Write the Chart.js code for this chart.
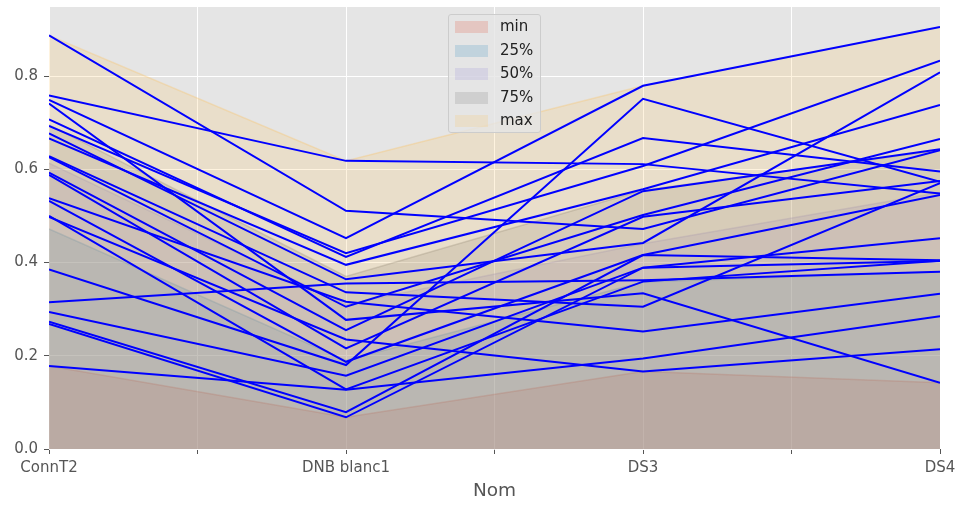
<!DOCTYPE html>
<html>
<head>
<meta charset="utf-8">
<script src="https://cdn.jsdelivr.net/npm/chart.js@4.4.0/dist/chart.umd.min.js"></script>
<style>
  html, body { margin: 0; padding: 0; background: #ffffff; }
  #wrap { position: relative; width: 958px; height: 505px; }
  #legend {
    position: absolute; left: 448px; top: 14px; width: 91px; height: 117px;
    border: 1px solid #cccccc; border-radius: 3px; background: rgba(229,229,229,0.8);
    font-family: "DejaVu Sans", sans-serif; font-size: 15px; color: #222;
  }
  .row { position: absolute; left: 0; height: 20px; }
  .sw { position: absolute; left: 6px; top: 4px; width: 33px; height: 12px; }
  .lb { position: absolute; left: 51px; top: 0px; white-space: nowrap; }
</style>
</head>
<body>
<div id="wrap">
  <canvas id="c" width="958" height="505"></canvas>
  <div id="legend"></div>
</div>
<script>
const categories = ['ConnT2', 'DNB blanc1', 'DS3', 'DS4'];
const yTicks = [0.0, 0.2, 0.4, 0.6, 0.8];

// quantile envelopes
const qMin = [0.178, 0.068, 0.166, 0.142];
const q25  = [0.472, 0.190, 0.358, 0.380];
const q50  = [0.613, 0.310, 0.440, 0.550];
const q75  = [0.695, 0.370, 0.555, 0.641];
const qMax = [0.887, 0.618, 0.779, 0.905];
const quantLabels = ['min', '25%', '50%', '75%', 'max'];

// one row per student
const eleves = [
  [0.749, 0.452, 0.779, 0.905],
  [0.385, 0.180, 0.751, 0.573],
  [0.707, 0.412, 0.667, 0.595],
  [0.758, 0.618, 0.611, 0.548],
  [0.887, 0.511, 0.472, 0.641],
  [0.538, 0.316, 0.252, 0.333],
  [0.498, 0.235, 0.166, 0.214],
  [0.178, 0.127, 0.194, 0.285],
  [0.741, 0.277, 0.334, 0.142],
  [0.315, 0.355, 0.362, 0.380],
  [0.628, 0.336, 0.305, 0.570],
  [0.693, 0.420, 0.607, 0.833],
  [0.677, 0.364, 0.442, 0.808],
  [0.666, 0.395, 0.557, 0.738],
  [0.626, 0.305, 0.502, 0.665],
  [0.593, 0.255, 0.553, 0.643],
  [0.588, 0.216, 0.498, 0.575],
  [0.532, 0.187, 0.416, 0.545],
  [0.294, 0.157, 0.389, 0.452],
  [0.273, 0.079, 0.416, 0.405],
  [0.268, 0.068, 0.389, 0.403],
  [0.500, 0.128, 0.359, 0.404]
];

const quantSeries = [qMin, q25, q50, q75, qMax];
const quantRGB = ['226,74,51', '52,138,189', '152,142,213', '119,119,119', '251,193,94'];

const toPts = arr => arr.map((v, i) => ({x: i, y: v}));

const datasets = [];
eleves.forEach((row, k) => {
  datasets.push({
    label: 'e' + k, data: toPts(row), borderColor: '#0000ff', borderWidth: 2,
    pointRadius: 0, fill: false, tension: 0, order: 0
  });
});
quantSeries.forEach((q, k) => {
  datasets.push({
    label: quantLabels[k], data: toPts(q),
    borderColor: 'rgba(' + quantRGB[k] + ',0.3)', borderWidth: 1.5,
    backgroundColor: 'rgba(' + quantRGB[k] + ',0.2)',
    pointRadius: 0, fill: 'origin', tension: 0, order: 10 - k
  });
});

const bgPlugin = {
  id: 'bg',
  beforeDraw(chart) {
    const a = chart.chartArea, ctx = chart.ctx;
    ctx.save(); ctx.fillStyle = '#e5e5e5';
    ctx.fillRect(a.left, a.top, a.right - a.left, a.bottom - a.top);
    ctx.restore();
  }
};

new Chart(document.getElementById('c'), {
  type: 'line',
  data: { datasets },
  plugins: [bgPlugin],
  options: {
    responsive: false, animation: false, devicePixelRatio: 1,
    layout: { padding: { left: 0, right: 18, top: 7, bottom: 0 } },
    plugins: { legend: { display: false }, tooltip: { enabled: false } },
    scales: {
      x: {
        type: 'linear', min: 0, max: 3,
        afterFit(s) { s.height = 56; s.paddingLeft = 0; s.paddingRight = 0; },
        border: { display: false },
        grid: { color: '#ffffff', lineWidth: 1, tickLength: 5, tickColor: '#555555' },
        ticks: {
          stepSize: 0.5, includeBounds: false, autoSkip: false, maxRotation: 0,
          padding: 5, color: '#555555',
          font: { family: 'DejaVu Sans', size: 15 },
          callback: v => (Number.isInteger(v) ? categories[v] : '')
        },
        title: { display: true, text: 'Nom', color: '#555555',
                 font: { family: 'DejaVu Sans', size: 18.5 }, padding: { top: 0, bottom: 3 } }
      },
      y: {
        type: 'linear', min: 0, max: 0.948,
        afterFit(s) { s.width = 49; s.paddingTop = 0; s.paddingBottom = 0; },
        afterBuildTicks(s) { s.ticks = yTicks.map(v => ({value: v})); },
        border: { display: false },
        grid: { color: '#ffffff', lineWidth: 1, tickLength: 5, tickColor: '#555555' },
        ticks: {
          includeBounds: false, padding: 6, color: '#555555',
          font: { family: 'DejaVu Sans', size: 15 },
          callback: v => v.toFixed(1)
        }
      }
    }
  }
});

// legend (HTML)
const leg = document.getElementById('legend');
quantLabels.forEach((name, k) => {
  const r = document.createElement('div');
  r.className = 'row';
  r.style.top = (2 + k * 23.6) + 'px';
  r.innerHTML = '<div class="sw" style="background:rgba(' + quantRGB[k] + ',0.2);border:0"></div>' +
                '<div class="lb">' + name + '</div>';
  leg.appendChild(r);
});
</script>
</body>
</html>
